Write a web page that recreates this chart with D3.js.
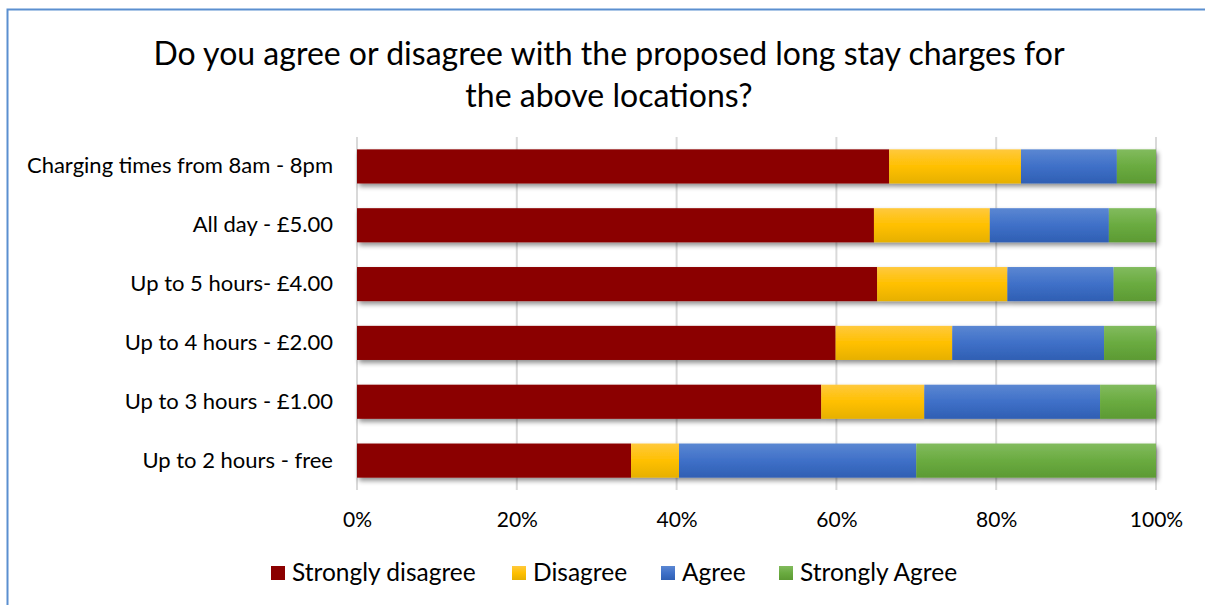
<!DOCTYPE html>
<html><head><meta charset="utf-8">
<script src="https://cdn.jsdelivr.net/npm/d3@7"></script>
<style>body{margin:0;background:#fff;} svg{display:block;font-family:Lato,"Open Sans",sans-serif;}</style>
</head><body>
<script>
const categories = ["Charging times from 8am - 8pm","All day - £5.00","Up to 5 hours- £4.00","Up to 4 hours - £2.00","Up to 3 hours - £1.00","Up to 2 hours - free"];
const seriesNames = ["Strongly disagree","Disagree","Agree","Strongly Agree"];
const stronglyDisagree = [66.6, 64.7, 65.1, 59.9, 58.1, 34.3];
const disagree = [16.5, 14.5, 16.3, 14.6, 12.9, 6.0];
const agree = [12.0, 14.9, 13.3, 19.0, 22.0, 29.7];
const stronglyAgree = [4.9, 5.9, 5.3, 6.5, 7.0, 30.0];
const tickValues = [0,20,40,60,80,100];
const colors = [["#8b0000","#8b0000","#8b0000"],["#ffc93d","#ffc000","#e6b000"],["#5b87d2","#3f70c8","#2f5fb3"],["#82bb5e","#6aab40","#5c9a33"]];

const W=1205,H=605;
const svg=d3.select("body").append("svg").attr("width",W).attr("height",H);
const defs=svg.append("defs");
colors.forEach((c,i)=>{
  const g=defs.append("linearGradient").attr("id","g"+i).attr("x1",0).attr("y1",0).attr("x2",0).attr("y2",1);
  g.append("stop").attr("offset","0%").attr("stop-color",c[0]);
  g.append("stop").attr("offset","50%").attr("stop-color",c[1]);
  g.append("stop").attr("offset","100%").attr("stop-color",c[2]);
});
const f=defs.append("filter").attr("id","sh").attr("x","-5%").attr("y","-30%").attr("width","110%").attr("height","180%");
f.append("feGaussianBlur").attr("in","SourceAlpha").attr("stdDeviation",2.5);
f.append("feOffset").attr("dx",2).attr("dy",3).attr("result","b");
f.append("feComponentTransfer").append("feFuncA").attr("type","linear").attr("slope",0.45);
const fm=f.append("feMerge"); fm.append("feMergeNode"); fm.append("feMergeNode").attr("in","SourceGraphic");

svg.append("rect").attr("x",7.5).attr("y",9.5).attr("width",1205).attr("height",610).attr("fill","#fff").attr("stroke","#5b8fd0").attr("stroke-width",2);

svg.append("text").attr("x",609).attr("y",65).attr("text-anchor","middle").attr("font-size",32).attr("fill","#000").text("Do you agree or disagree with the proposed long stay charges for");
svg.append("text").attr("x",609).attr("y",107).attr("text-anchor","middle").attr("font-size",32).attr("fill","#000").text("the above locations?");

const x=d3.scaleLinear().domain([0,100]).range([357,1156]);
const y=d3.scaleBand().domain(categories).range([137,490]).paddingInner(0.42).paddingOuter(0.21);

const grid=svg.append("g");
grid.selectAll("line").data(tickValues).join("line")
  .attr("x1",d=>x(d)).attr("x2",d=>x(d)).attr("y1",137).attr("y2",490)
  .attr("stroke","#d9d9d9").attr("stroke-width",2);

const data=categories.map((c,i)=>({cat:c,"Strongly disagree":stronglyDisagree[i],"Disagree":disagree[i],"Agree":agree[i],"Strongly Agree":stronglyAgree[i]}));
const stack=d3.stack().keys(seriesNames)(data);

categories.forEach((c,ci)=>{
  const g=svg.append("g").attr("filter","url(#sh)");
  stack.forEach((s,si)=>{
    const d=s[ci];
    g.append("rect").attr("x",x(d[0])).attr("width",x(d[1])-x(d[0])).attr("y",y(c)).attr("height",y.bandwidth()).attr("fill","url(#g"+si+")");
  });
});

const yAxis=svg.append("g").attr("transform","translate(357,0)").call(d3.axisLeft(y).tickSize(0).tickPadding(24));
yAxis.select(".domain").remove();
yAxis.selectAll("text").attr("font-size",22).attr("fill","#000").attr("font-family","Lato,'Open Sans',sans-serif");

const xAxis=svg.append("g").attr("transform","translate(0,490)").call(d3.axisBottom(x).tickValues(tickValues).tickFormat(d=>d+"%").tickSize(0).tickPadding(22));
xAxis.select(".domain").remove();
xAxis.selectAll("text").attr("font-size",21).attr("fill","#000").attr("font-family","Lato,'Open Sans',sans-serif");

const legX=[271,512,661,779];
const leg=svg.append("g");
seriesNames.forEach((n,i)=>{
  leg.append("rect").attr("x",legX[i]).attr("y",566).attr("width",14).attr("height",14).attr("fill","url(#g"+i+")");
  leg.append("text").attr("x",legX[i]+21).attr("y",581).attr("font-size",24.5).attr("fill","#000").text(n);
});
</script>
</body></html>
